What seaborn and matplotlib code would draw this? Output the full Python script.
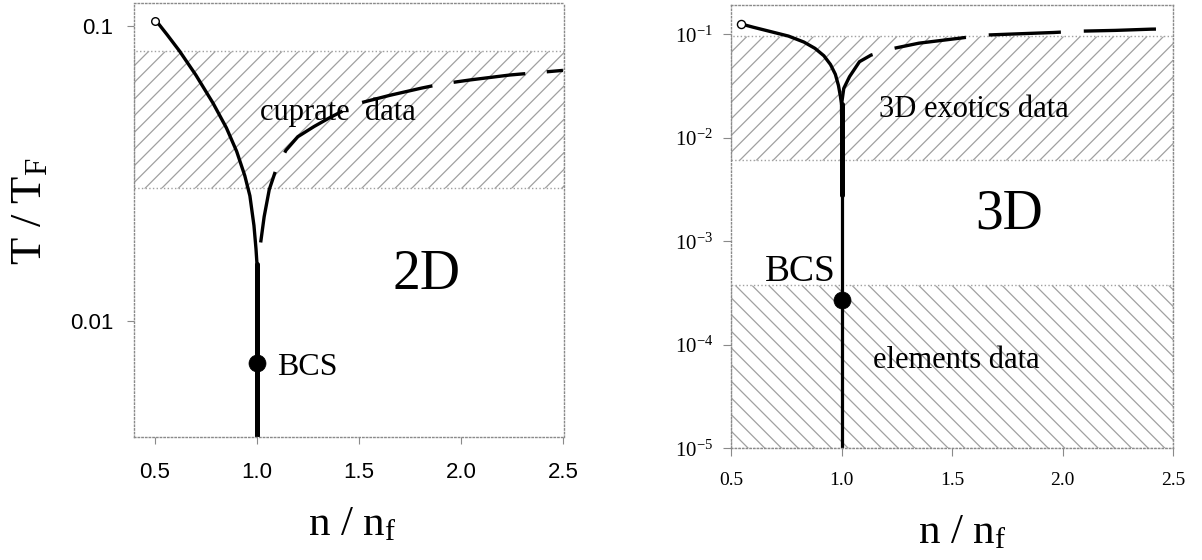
import matplotlib
matplotlib.use("Agg")
import matplotlib.pyplot as plt
from matplotlib.ticker import NullLocator
import seaborn as sns

# ---------------- data ----------------
# left panel (2D)
n2_left = [0.50, 0.56, 0.62, 0.70, 0.785, 0.85, 0.90, 0.94, 0.965, 0.985, 0.995, 1.0]
t2_left = [0.105, 0.093, 0.082, 0.068, 0.0545, 0.045, 0.0375, 0.031, 0.0265, 0.021, 0.0175, 0.0155]
n2_right = [1.018, 1.035, 1.06, 1.093, 1.142, 1.2, 1.28, 1.358, 1.489, 1.65, 1.807, 1.905, 2.05, 2.24, 2.5]
t2_right = [0.0184, 0.0225, 0.0278, 0.0325, 0.0378, 0.042, 0.0455, 0.0488, 0.0543, 0.058, 0.0614, 0.0634, 0.0655, 0.068, 0.0705]
n2_vert = [1.0, 1.0]
t2_vert = [0.004, 0.0155]
n2_open, t2_open = [0.5], [0.104]
n2_bcs, t2_bcs = [1.0], [0.0072]
band2 = [0.0282, 0.0822]
xticks2 = [0.5, 1.0, 1.5, 2.0, 2.5]
xlabels2 = ["0.5", "1.0", "1.5", "2.0", "2.5"]
yticks2 = [0.01, 0.1]
ylabels2 = ["0.01", "0.1"]

# right panel (3D)
n3_left = [0.544, 0.60, 0.68, 0.76, 0.83, 0.88, 0.92, 0.95, 0.972, 0.986, 0.995, 1.0]
t3_left = [0.126, 0.117, 0.106, 0.096, 0.084, 0.073, 0.062, 0.051, 0.041, 0.032, 0.025, 0.021]
n3_right = [1.0, 1.0, 1.01, 1.036, 1.081, 1.134, 1.216, 1.35, 1.532, 1.64, 1.8, 1.96, 2.07, 2.24, 2.40, 2.5]
t3_right = [0.0168, 0.021, 0.030, 0.0389, 0.0543, 0.063, 0.0716, 0.082, 0.0915, 0.098, 0.101, 0.104, 0.107, 0.109, 0.112, 0.113]
n3_vert_thin = [1.0, 1.0]
t3_vert_thin = [1e-5, 0.0028]
n3_vert_thick = [1.0, 1.0]
t3_vert_thick = [0.0028, 0.021]
n3_open, t3_open = [0.544], [0.126]
n3_bcs, t3_bcs = [1.0], [2.72e-4]
band3_upper = [0.0061, 0.0963]
band3_lower = [1e-5, 3.74e-4]
xticks3 = [0.5, 1.0, 1.5, 2.0, 2.5]
xlabels3 = ["0.5", "1.0", "1.5", "2.0", "2.5"]
yticks3 = [1e-5, 1e-4, 1e-3, 1e-2, 1e-1]
ylabels3 = [r"$\mathrm{10^{-5}}$", r"$\mathrm{10^{-4}}$", r"$\mathrm{10^{-3}}$",
            r"$\mathrm{10^{-2}}$", r"$\mathrm{10^{-1}}$"]

# ---------------- style ----------------
sns.set_theme(style="white")
plt.rcParams.update({
    "font.family": ["Liberation Serif", "DejaVu Serif"],
    "mathtext.fontset": "custom",
    "mathtext.rm": "Liberation Serif",
    "mathtext.it": "Liberation Serif:italic",
    "mathtext.bf": "Liberation Serif:bold",
    "hatch.linewidth": 0.9,
    "lines.scale_dashes": False,
    "text.color": "black",
    "axes.labelcolor": "black",
    "xtick.color": "black",
    "ytick.color": "black",
})

FRAME = "#8a8a8a"
HATCH = "#a0a0a0"
SERIF = "Liberation Serif"
SANS = "Liberation Sans"

fig = plt.figure(figsize=(12.02, 5.6), dpi=100)
axL = fig.add_axes([0.1115, 0.2196, 0.3577, 0.7745])
axR = fig.add_axes([0.6082, 0.1995, 0.3677, 0.7921])

for ax in (axL, axR):
    ax.set_yscale("log")
    for sp in ax.spines.values():
        sp.set_linestyle(":")
        sp.set_color(FRAME)
        sp.set_linewidth(1.0)

# ---------------- left panel ----------------
axL.axhspan(band2[0], band2[1], facecolor="none", edgecolor=HATCH, hatch="//",
            linewidth=1.0, linestyle=":", zorder=0.5)
sns.lineplot(x=n2_left, y=t2_left, ax=axL, color="black", linewidth=2.4,
             sort=False, estimator=None)
sns.lineplot(x=n2_vert, y=t2_vert, ax=axL, color="black", linewidth=3.6,
             sort=False, estimator=None)
sns.lineplot(x=n2_right, y=t2_right, ax=axL, color="black", linewidth=2.4,
             sort=False, estimator=None)
axL.lines[-1].set_dashes([52, 15.5])
sns.scatterplot(x=n2_open, y=t2_open, ax=axL, s=30, color="white",
                edgecolor="black", linewidth=1.0, zorder=5)
sns.scatterplot(x=n2_bcs, y=t2_bcs, ax=axL, s=150, color="black",
                edgecolor="black", linewidth=0.5, zorder=5)

axL.text(1.395, 0.051, "cuprate  data", fontsize=22, ha="center", va="center", family=SERIF)
axL.text(1.83, 0.0143, "2D", fontsize=40, ha="center", va="center", family=SERIF)
axL.text(1.097, 0.00693, "BCS", fontsize=23, ha="left", va="center", family=SERIF)

axL.set_xticks(xticks2)
axL.set_xticklabels(xlabels2, fontsize=16, fontfamily=SANS)
axL.set_yticks(yticks2)
axL.set_yticklabels(ylabels2, fontsize=16, fontfamily=SANS)
axL.yaxis.set_minor_locator(NullLocator())
axL.tick_params(axis="both", which="major", direction="out", length=5, width=0.8,
                color=FRAME, labelcolor="black", bottom=True, left=True)
axL.tick_params(axis="x", pad=13)
axL.tick_params(axis="y", pad=10)
axL.set_xlim(0.397, 2.505)
axL.set_ylim(0.00403, 0.119)

axL.set_xlabel("n / n$_\\mathrm{f}$", fontsize=31, family=SERIF)
axL.xaxis.label.set_va("baseline")
axL.xaxis.set_label_coords(0.507, -0.226)
axL.set_ylabel("T / T$_\\mathrm{F}$", fontsize=32, family=SERIF)
axL.yaxis.label.set(rotation_mode="default", va="center", ha="center")
axL.yaxis.set_label_coords(-0.242, 0.52)

# ---------------- right panel ----------------
axR.axhspan(band3_upper[0], band3_upper[1], facecolor="none", edgecolor=HATCH, hatch="//",
            linewidth=1.0, linestyle=":", zorder=0.5)
axR.axhspan(band3_lower[0], band3_lower[1], facecolor="none", edgecolor=HATCH, hatch="\\\\",
            linewidth=1.0, linestyle=":", zorder=0.5)
sns.lineplot(x=n3_left, y=t3_left, ax=axR, color="black", linewidth=2.4,
             sort=False, estimator=None)
sns.lineplot(x=n3_vert_thin, y=t3_vert_thin, ax=axR, color="black", linewidth=2.3,
             sort=False, estimator=None)
sns.lineplot(x=n3_vert_thick, y=t3_vert_thick, ax=axR, color="black", linewidth=3.6,
             sort=False, estimator=None)
sns.lineplot(x=n3_right, y=t3_right, ax=axR, color="black", linewidth=2.4,
             sort=False, estimator=None)
axR.lines[-1].set_dashes([52, 16.5])
sns.scatterplot(x=n3_open, y=t3_open, ax=axR, s=34, color="white",
                edgecolor="black", linewidth=1.0, zorder=5)
sns.scatterplot(x=n3_bcs, y=t3_bcs, ax=axR, s=150, color="black",
                edgecolor="black", linewidth=0.5, zorder=5)

axR.text(1.60, 0.0186, "3D exotics data", fontsize=22, ha="center", va="center", family=SERIF)
axR.text(1.76, 0.0018, "3D", fontsize=40, ha="center", va="center", family=SERIF)
axR.text(0.976, 5.1e-4, "BCS", fontsize=27, ha="right", va="center", family=SERIF)
axR.text(1.518, 7.0e-5, "elements data", fontsize=22, ha="center", va="center", family=SERIF)

axR.set_xticks(xticks3)
axR.set_xticklabels(xlabels3, fontsize=14, fontfamily=SERIF)
axR.set_yticks(yticks3)
axR.set_yticklabels(ylabels3, fontsize=15, fontfamily=SERIF)
axR.yaxis.set_minor_locator(NullLocator())
axR.tick_params(axis="both", which="major", direction="out", length=6, width=0.8,
                color=FRAME, labelcolor="black", bottom=True, left=True)
axR.tick_params(axis="x", pad=11)
axR.tick_params(axis="y", pad=7)
axR.set_xlim(0.5, 2.5)
axR.set_ylim(1e-5, 0.193)

axR.set_xlabel("n / n$_\\mathrm{f}$", fontsize=31, family=SERIF)
axR.xaxis.label.set_va("baseline")
axR.xaxis.set_label_coords(0.523, -0.2135)
axR.set_ylabel("")

fig.savefig("out.png", dpi=100, facecolor="white")
